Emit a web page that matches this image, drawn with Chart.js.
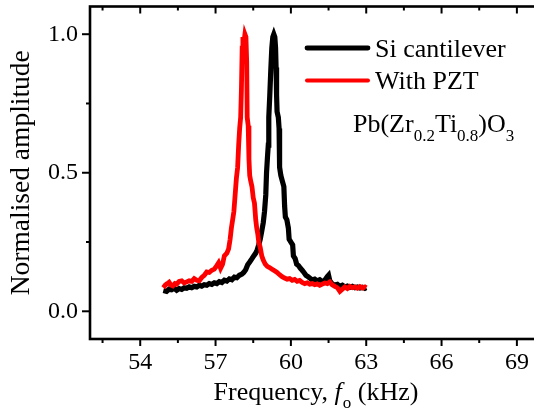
<!DOCTYPE html>
<html>
<head>
<meta charset="utf-8">
<script src="https://cdn.jsdelivr.net/npm/chart.js"></script>
<style>
  html, body { margin: 0; padding: 0; background: #fff; overflow: hidden; }
  canvas { display: block; }
</style>
</head>
<body>
<canvas id="c" width="560" height="414"></canvas>
<script>
// ---- data ----
const siFreq = [54.92,55.05,55.15,55.25,55.35,55.45,55.55,55.65,55.75,55.85,55.95,56.05,56.15,56.25,56.35,56.45,56.55,56.65,56.75,56.85,56.95,57.05,57.15,57.25,57.35,57.45,57.55,57.65,57.75,57.85,57.95,58.05,58.12,58.2,58.28,58.36,58.45,58.52,58.6,58.66,58.72,58.78,58.84,58.9,58.95,59.0,59.03,59.07,59.1,59.12,59.16,59.2,59.24,59.28,59.32,59.36,59.39,59.41,59.43,59.45,59.5,59.53,59.55,59.6,59.66,59.72,59.75,59.78,59.84,59.9,59.93,60.0,60.07,60.1,60.17,60.23,60.3,60.38,60.45,60.52,60.6,60.68,60.75,60.85,60.95,61.05,61.15,61.25,61.35,61.45,61.5,61.55,61.65,61.75,61.85,61.95,62.05,62.15,62.25,62.35,62.45,62.55,62.65,62.75,62.85,62.95,63.0];
const siAmp = [0.075,0.072,0.08,0.078,0.083,0.076,0.082,0.079,0.085,0.083,0.088,0.085,0.09,0.088,0.094,0.091,0.096,0.094,0.1,0.097,0.103,0.1,0.107,0.104,0.112,0.109,0.117,0.114,0.123,0.121,0.13,0.134,0.14,0.15,0.168,0.178,0.19,0.2,0.21,0.222,0.24,0.26,0.29,0.32,0.36,0.42,0.5,0.56,0.6,0.7,0.78,0.87,0.95,0.99,1.0,0.99,0.95,0.88,0.78,0.72,0.7,0.66,0.52,0.49,0.47,0.45,0.38,0.34,0.33,0.3,0.26,0.25,0.24,0.2,0.19,0.17,0.165,0.155,0.148,0.14,0.13,0.125,0.12,0.113,0.116,0.11,0.114,0.108,0.112,0.125,0.13,0.11,0.098,0.095,0.097,0.09,0.094,0.088,0.091,0.086,0.09,0.085,0.088,0.084,0.087,0.083,0.085];

const pztFreq = [54.92,55.0,55.08,55.15,55.22,55.3,55.38,55.45,55.55,55.65,55.75,55.85,55.95,56.05,56.15,56.25,56.35,56.45,56.55,56.65,56.75,56.85,56.95,57.05,57.12,57.2,57.28,57.35,57.45,57.52,57.58,57.63,57.68,57.73,57.78,57.83,57.88,57.92,57.96,58.0,58.03,58.06,58.09,58.13,58.17,58.21,58.24,58.26,58.3,58.33,58.36,58.4,58.45,58.5,58.55,58.6,58.64,58.68,58.72,58.78,58.84,58.9,58.98,59.06,59.15,59.25,59.35,59.45,59.55,59.65,59.75,59.85,59.95,60.05,60.15,60.25,60.35,60.45,60.55,60.65,60.75,60.85,60.95,61.05,61.15,61.25,61.35,61.45,61.55,61.65,61.75,61.85,61.95,62.05,62.15,62.25,62.35,62.45,62.55,62.65,62.75,62.85,62.95,63.0];
const pztAmp = [0.085,0.095,0.1,0.105,0.095,0.092,0.1,0.098,0.108,0.11,0.102,0.106,0.11,0.108,0.118,0.112,0.11,0.122,0.13,0.142,0.14,0.148,0.152,0.165,0.175,0.155,0.17,0.2,0.21,0.225,0.26,0.3,0.33,0.36,0.42,0.48,0.52,0.6,0.66,0.7,0.8,0.95,0.99,0.97,1.0,0.99,0.9,0.7,0.67,0.55,0.49,0.47,0.45,0.41,0.39,0.33,0.3,0.28,0.25,0.23,0.2,0.185,0.17,0.162,0.158,0.152,0.146,0.14,0.132,0.125,0.12,0.116,0.118,0.112,0.115,0.108,0.111,0.104,0.1,0.103,0.098,0.1,0.096,0.099,0.094,0.098,0.102,0.1,0.106,0.095,0.09,0.085,0.072,0.08,0.088,0.082,0.09,0.085,0.088,0.083,0.089,0.084,0.088,0.085];

const seriesLabels = ['Si cantilever', 'With PZT'];
const seriesColors = ['#000000', '#ff0000'];
const xTickValues = [54, 57, 60, 63, 66, 69];
const xMinorValues = [52.5, 55.5, 58.5, 61.5, 64.5, 67.5];
const yTickValues = [0.0, 0.5, 1.0];
const yMinorValues = [0.25, 0.75];
const xTitleParts = ['Frequency, ', 'f', 'o', ' (kHz)'];
const yTitle = 'Normalised amplitude';
const formulaParts = [['Pb(Zr', 0], ['0.2', 1], ['Ti', 0], ['0.8', 1], [')O', 0], ['3', 1]];

const FONT = '"Liberation Serif", serif';
Chart.defaults.font.family = FONT;

function pts(xs, ys) { return xs.map((v, i) => ({ x: v, y: ys[i] })); }

const decor = {
  id: 'decor',
  afterDatasetsDraw(chart) {
    const { ctx, chartArea: a, scales: { x, y } } = chart;
    ctx.save();
    ctx.strokeStyle = '#000';
    ctx.lineCap = 'butt';
    function seg(x1, y1, x2, y2) { ctx.beginPath(); ctx.moveTo(x1, y1); ctx.lineTo(x2, y2); ctx.stroke(); }
    ctx.lineWidth = 2;
    xTickValues.forEach(v => { const p = x.getPixelForValue(v); seg(p, a.bottom, p, a.bottom + 7); seg(p, a.top, p, a.top + 7); });
    xMinorValues.forEach(v => { const p = x.getPixelForValue(v); seg(p, a.bottom, p, a.bottom + 4); seg(p, a.top, p, a.top + 4); });
    yTickValues.forEach(v => { const p = y.getPixelForValue(v); seg(a.left - 8, p, a.left, p); seg(a.right - 8, p, a.right, p); });
    yMinorValues.forEach(v => { const p = y.getPixelForValue(v); seg(a.left - 4, p, a.left, p); seg(a.right - 4, p, a.right, p); });
    ctx.lineWidth = 2.6;
    ctx.strokeRect(a.left, a.top, a.right - a.left, a.bottom - a.top);

    // x axis title with italic f and subscript o
    ctx.fillStyle = '#000';
    ctx.textBaseline = 'alphabetic';
    ctx.textAlign = 'left';
    const fN = '26px ' + FONT, fI = 'italic 26px ' + FONT, fS = '17px ' + FONT;
    const widths = [];
    ctx.font = fN; widths.push(ctx.measureText(xTitleParts[0]).width);
    ctx.font = fI; widths.push(ctx.measureText(xTitleParts[1]).width + 1);
    ctx.font = fS; widths.push(ctx.measureText(xTitleParts[2]).width);
    ctx.font = fN; widths.push(ctx.measureText(xTitleParts[3]).width);
    const total = widths.reduce((s, w) => s + w, 0);
    let tx = (a.left + a.right) / 2 - total / 2;
    const base = a.bottom + 61;
    ctx.font = fN; ctx.fillText(xTitleParts[0], tx, base); tx += widths[0];
    ctx.font = fI; ctx.fillText(xTitleParts[1], tx, base); tx += widths[1];
    ctx.font = fS; ctx.fillText(xTitleParts[2], tx, base + 8); tx += widths[2];
    ctx.font = fN; ctx.fillText(xTitleParts[3], tx, base);

    // legend
    const lx1 = a.left + 217, lx2 = a.left + 278;
    const rows = [a.top + 41.5, a.top + 74];
    chart.data.datasets.forEach((ds) => {
      const ri = seriesLabels.indexOf(ds.label);
      ctx.strokeStyle = ds.borderColor;
      ctx.lineWidth = ri === 0 ? 4.8 : 4.0;
      ctx.lineCap = 'round';
      seg(lx1, rows[ri], lx2, rows[ri]);
      ctx.fillStyle = '#000';
      ctx.font = '26px ' + FONT;
      ctx.fillText(ds.label, lx2 + 7, rows[ri] + 8.5);
    });
    // formula line
    let fx = a.left + 263;
    const fb = a.top + 125;
    formulaParts.forEach(([t, sub]) => {
      ctx.font = sub ? '17px ' + FONT : '26px ' + FONT;
      ctx.fillText(t, fx, sub ? fb + 9 : fb);
      fx += ctx.measureText(t).width;
    });
    ctx.restore();
  }
};

new Chart(document.getElementById('c'), {
  type: 'line',
  data: {
    datasets: [
      { label: seriesLabels[1], data: pts(pztFreq, pztAmp), borderColor: seriesColors[1], borderWidth: 4.8, pointRadius: 0, tension: 0, fill: false },
      { label: seriesLabels[0], data: pts(siFreq, siAmp), borderColor: seriesColors[0], borderWidth: 5.2, pointRadius: 0, tension: 0, fill: false }
    ]
  },
  options: {
    responsive: false,
    animation: false,
    devicePixelRatio: 1,
    layout: { padding: { top: 6.5, right: 18, left: 0, bottom: 0 } },
    plugins: { legend: { display: false }, tooltip: { enabled: false } },
    scales: {
      x: {
        type: 'linear', min: 52, max: 70,
        grid: { display: false, drawTicks: false },
        border: { display: false },
        afterBuildTicks: s => { s.ticks = xTickValues.map(v => ({ value: v })); },
        afterFit: s => { s.height = 75; s.paddingLeft = 0; s.paddingRight = 0; },
        ticks: { color: '#000', padding: 9, maxRotation: 0, autoSkip: false, font: { family: FONT, size: 24 }, callback: v => String(v) }
      },
      y: {
        type: 'linear', min: -0.1, max: 1.1,
        grid: { display: false, drawTicks: false },
        border: { display: false },
        afterBuildTicks: s => { s.ticks = yTickValues.map(v => ({ value: v })); },
        afterFit: s => { s.width = 90; s.paddingTop = 0; s.paddingBottom = 0; },
        ticks: { color: '#000', padding: 12, autoSkip: false, font: { family: FONT, size: 24 }, callback: v => Number(v).toFixed(1) },
        title: { display: true, text: yTitle, color: '#000', font: { family: FONT, size: 27.5 }, padding: { top: 5, bottom: 0 } }
      }
    }
  },
  plugins: [decor]
});
</script>
</body>
</html>
